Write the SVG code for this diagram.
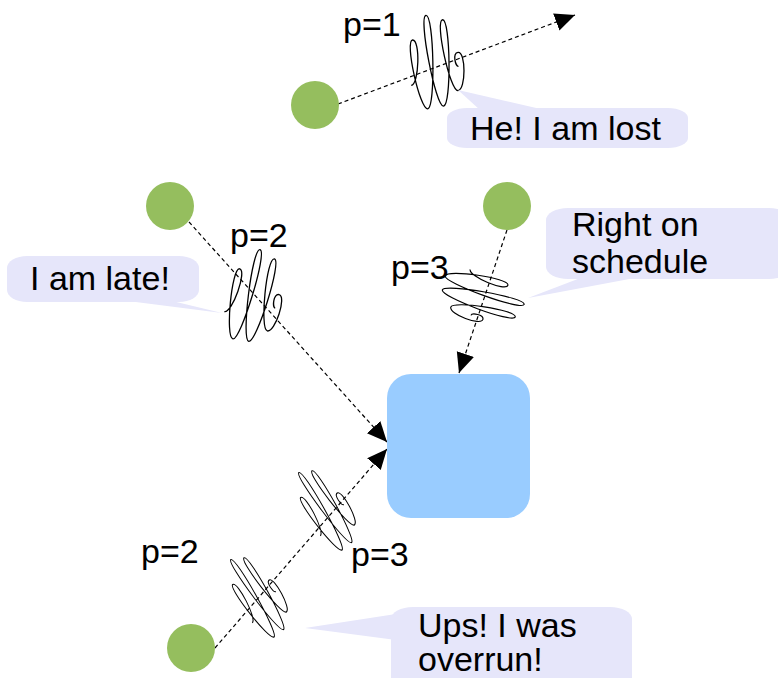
<svg xmlns="http://www.w3.org/2000/svg" width="778" height="678" viewBox="0 0 778 678">
  <style>
    .lbl { font-family: "Liberation Sans", Arial, sans-serif; font-size: 34px; fill: #000; }
    .src { fill: #95be5e; }
    .bubble { fill: #e6e6fa; }
    .wire { fill: none; stroke: #000; stroke-width: 1.2; stroke-dasharray: 4 3; marker-end: url(#tip); }
    .wiggle { fill: none; stroke: #000; stroke-width: 1.3; }
  </style>
  <defs>
    <marker id="tip" markerUnits="userSpaceOnUse" markerWidth="22" markerHeight="20" refX="20" refY="9" orient="auto">
      <path d="M0,0 L20,9 L0,18 Z" fill="#000"/>
    </marker>
    <!-- a coiled wave packet, drawn along +x with loops along y -->
    <path id="packet" class="wiggle" d="M-24,20
      C-16,20 -10,-25 -18,-25
      C-26,-25 -18,45 -10,45
      C-2,45 6,-48 -2,-48
      C-10,-48 -2,44 6,44
      C14,44 22,-42 14,-42
      C6,-42 14,30 22,30
      C30,30 34,-8 26,-8
      C20,-8 22,6 25,6"/>
  </defs>

  <!-- connectors -->
  <g id="connectors">
    <line class="wire" x1="338" y1="104" x2="575" y2="15"/>
    <line class="wire" x1="189" y1="222" x2="387" y2="442"/>
    <line class="wire" x1="507" y1="230" x2="459" y2="373"/>
    <line class="wire" x1="215" y1="648" x2="387" y2="449"/>
  </g>

  <!-- wave packets travelling on the connectors -->
  <g id="packets">
    <use href="#packet" transform="translate(433,63) rotate(-6)"/>
    <use href="#packet" transform="translate(252,297) rotate(12)"/>
    <use href="#packet" transform="translate(482,295) rotate(105) scale(0.9,0.9)"/>
    <use href="#packet" transform="translate(257,597) rotate(-33) scale(0.75,0.95)"/>
    <use href="#packet" transform="translate(325,510) rotate(-33) scale(0.75,0.95)"/>
  </g>

  <!-- receiver -->
  <g id="receiver">
    <rect x="387" y="374" width="143" height="144" rx="24" ry="24" fill="#99ccff"/>
  </g>

  <!-- senders -->
  <g id="sender-top"><circle class="src" cx="315" cy="105" r="24"/></g>
  <g id="sender-left"><circle class="src" cx="170" cy="206" r="24"/></g>
  <g id="sender-right"><circle class="src" cx="507" cy="206" r="24"/></g>
  <g id="sender-bottom"><circle class="src" cx="191" cy="648" r="24"/></g>

  <!-- priority labels -->
  <g id="labels">
    <text class="lbl" x="343" y="36">p=1</text>
    <text class="lbl" x="230" y="247">p=2</text>
    <text class="lbl" x="391" y="279">p=3</text>
    <text class="lbl" x="141" y="563">p=2</text>
    <text class="lbl" x="351" y="566">p=3</text>
  </g>

  <!-- speech bubbles -->
  <g id="bubble-lost">
    <path class="bubble" d="M458,90 L480,110 L545,110 Z"/>
    <rect class="bubble" x="447" y="108" width="241" height="40" rx="20" ry="10"/>
    <text class="lbl" x="470" y="140">He! I am lost</text>
  </g>
  <g id="bubble-late">
    <path class="bubble" d="M222,313 L120,300 L168,300 Z"/>
    <rect class="bubble" x="7" y="256" width="192" height="46" rx="20" ry="12"/>
    <text class="lbl" x="30" y="290">I am late!</text>
  </g>
  <g id="bubble-schedule">
    <path class="bubble" d="M528,298 L583,277 L640,277 Z"/>
    <rect class="bubble" x="546" y="208" width="245" height="71" rx="22" ry="12"/>
    <text class="lbl" x="572" y="236">Right on</text>
    <text class="lbl" x="572" y="273">schedule</text>
  </g>
  <g id="bubble-overrun">
    <path class="bubble" d="M305,628 L396,614 L396,640 Z"/>
    <rect class="bubble" x="391" y="607" width="241" height="85" rx="22" ry="12"/>
    <text class="lbl" x="418" y="637">Ups! I was</text>
    <text class="lbl" x="418" y="671">overrun!</text>
  </g>
</svg>
